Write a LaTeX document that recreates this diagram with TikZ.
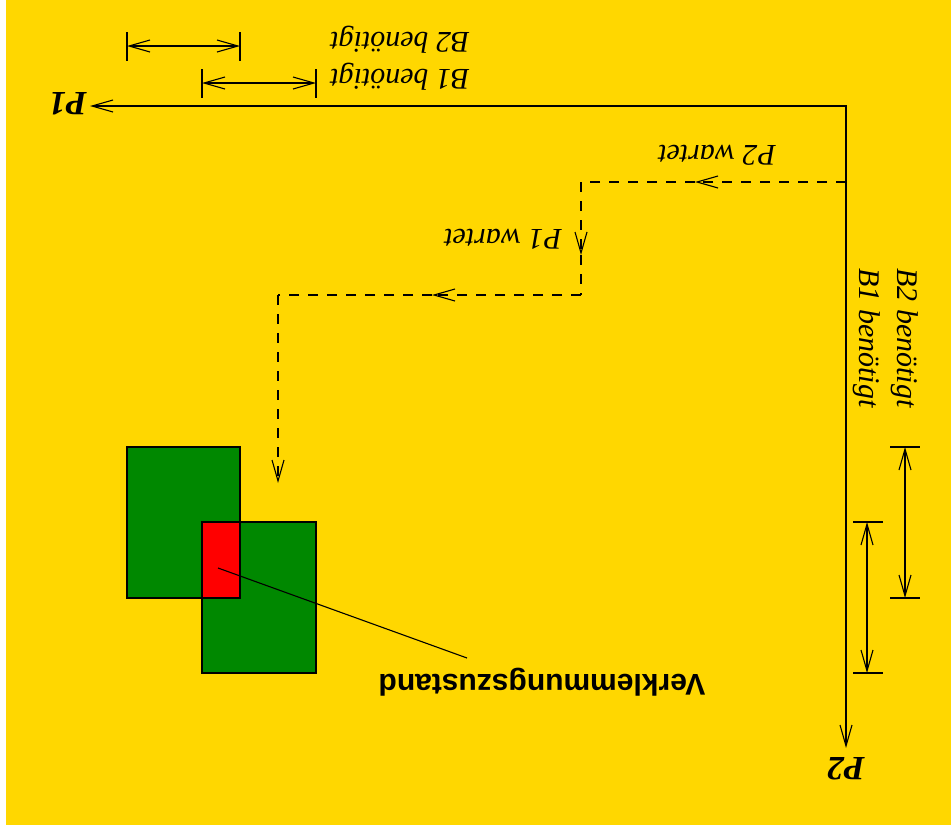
\documentclass[tikz,border=0pt]{standalone}
\usepackage{fontspec}
\setmainfont{Liberation Serif}
\newfontfamily\lsans{Liberation Sans}
\usetikzlibrary{arrows.meta}
\definecolor{bg}{RGB}{255,215,0}
\definecolor{grn}{RGB}{0,136,0}
\begin{document}
\begin{tikzpicture}[x=1pt,y=-1pt,
  >={Straight Barb[length=21pt,width=12pt]},
  ln/.style={line width=1.1pt},
  dsh/.style={ln,dash pattern=on 10pt off 9pt},
  lbl/.style={font=\itshape\fontsize{30}{36}\selectfont, inner sep=0pt, anchor=base},
  pl/.style={font=\bfseries\itshape\fontsize{34}{40}\selectfont, inner sep=0pt, anchor=base},
  vk/.style={font=\lsans\bfseries\fontsize{30}{36}\selectfont, inner sep=0pt, anchor=base}]
\useasboundingbox (0,0) rectangle (951,830);
\fill[bg] (6,0) rectangle (951,825);

% axes
\coordinate (O) at (846,106);
\coordinate (p1tip) at (90,106);
\coordinate (p2tip) at (846,748);
\draw[ln,<->] (p1tip) -- (O) -- (p2tip);
\node[pl, rotate=180] (P1) at (68,92) {P1};
\node[pl, rotate=180] (P2) at (846,757) {P2};

% top dimension lines
\coordinate (t2a) at (127,46); \coordinate (t2b) at (240,46);
\coordinate (t1a) at (202,83); \coordinate (t1b) at (316,83);
\draw[ln] (127,32) -- (127,61) (240,32) -- (240,61);
\draw[ln] (202,69) -- (202,98) (316,69) -- (316,98);
\draw[ln,<->] (t2a) -- (t2b);
\draw[ln,<->] (t1a) -- (t1b);
\node[lbl, rotate=180] (lB2) at (400,32) {B2 benötigt};
\node[lbl, rotate=180] (lB1) at (400,69) {B1 benötigt};

% right dimension lines
\coordinate (r2a) at (905,447); \coordinate (r2b) at (905,598);
\coordinate (r1a) at (867,522); \coordinate (r1b) at (867,673);
\draw[ln] (890,447) -- (920,447) (890,598) -- (920,598);
\draw[ln] (853,522) -- (883,522) (853,673) -- (883,673);
\draw[ln,<->] (r2a) -- (r2b);
\draw[ln,<->] (r1a) -- (r1b);
\node[lbl, rotate=-90] (rB2) at (897,338) {B2 benötigt};
\node[lbl, rotate=-90] (rB1) at (859,338) {B1 benötigt};

% dashed path
\coordinate (d0) at (846,182);
\coordinate (m1) at (695,182);
\coordinate (d1) at (581,182);
\coordinate (m2) at (581,255);
\coordinate (d2) at (581,295);
\coordinate (m3) at (432,295);
\coordinate (d3) at (278,295);
\coordinate (d4) at (278,483);
\draw[dsh,->] (d0) -- (m1);
\draw[dsh] (m1) -- (d1);
\draw[dsh,->] (d1) -- (m2);
\draw[dsh] (m2) -- (d2);
\draw[dsh,->] (d2) -- (m3);
\draw[dsh] (m3) -- (d3);
\draw[dsh,->] (d3) -- (d4);
\node[lbl, rotate=180] (lP2w) at (717,145) {P2 wartet};
\node[lbl, rotate=180] (lP1w) at (503,229) {P1 wartet};

% resource rectangles
\draw[ln, fill=grn] (127,447) rectangle (240,598);
\draw[ln, fill=grn] (202,522) rectangle (316,673);
\draw[ln, fill=red] (202,522) rectangle (240,598);

% deadlock label
\coordinate (dl) at (218,568);
\coordinate (dr) at (467,658);
\draw[ln] (dl) -- (dr);
\node[vk, rotate=180] (vkl) at (542,674) {Verklemmungszustand};
\end{tikzpicture}
\end{document}
